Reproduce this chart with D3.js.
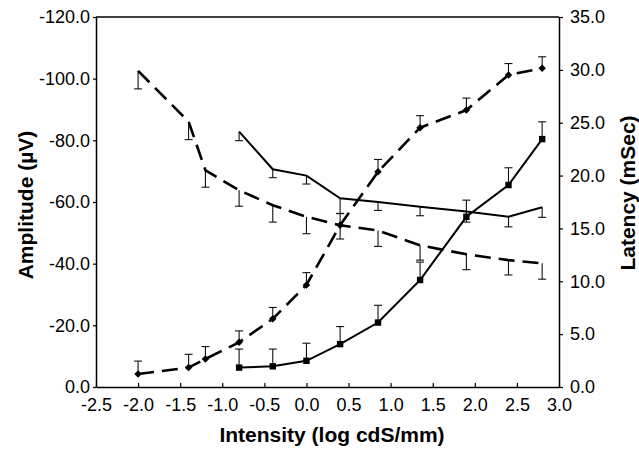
<!DOCTYPE html>
<html>
<head>
<meta charset="utf-8">
<script src="https://cdn.jsdelivr.net/npm/d3@7"></script>
<style>
  body { margin: 0; background: #fff; }
  text { font-family: "Liberation Sans", Arial, Helvetica, sans-serif; }
</style>
</head>
<body>
<div id="chart"></div>
<script>
// intensity steps (log cdS/mm)
const intensity = [-2.0, -1.4, -1.2, -0.8, -0.4, 0.0, 0.4, 0.85, 1.35, 1.9, 2.4, 2.8];
const intensityShort = [-0.8, -0.4, 0.0, 0.4, 0.85, 1.35, 1.9, 2.4, 2.8];

// amplitude (uV), left axis
const ampDashed = [-4.2, -6.3, -9.1, -14.5, -22.1, -33.1, -52.5, -69.8, -84.1, -89.8, -101.2, -103.4];
const ampDashedErr = [4.2, 4.3, 4.0, 3.7, 3.7, 4.0, 3.8, 4.0, 3.9, 3.9, 3.7, 3.7];
const ampSolid = [-6.3, -6.7, -8.5, -13.9, -20.9, -34.7, -55.2, -65.5, -80.4];
const ampSolidErr = [6.0, 5.6, 5.7, 5.7, 5.6, 5.8, 5.4, 5.6, 5.6];

// latency (mSec), right axis
const latDashed = [29.9, 25.1, 20.5, 18.6, 17.2, 16.1, 15.3, 14.8, 13.4, 12.55, 12.0, 11.7];
const latDashedErr = [1.7, 1.7, 1.6, 1.5, 1.6, 1.6, 1.3, 1.5, 1.4, 1.45, 1.4, 1.5];
const latSolid = [24.15, 20.6, 20.0, 17.85, 17.5, 17.05, 16.6, 16.1, 17.0];
const latSolidErr = [0.85, 0.8, 0.8, 1.45, 0.8, 0.85, 1.0, 0.95, 0.95];

const xTicks = [-2.5, -2.0, -1.5, -1.0, -0.5, 0.0, 0.5, 1.0, 1.5, 2.0, 2.5, 3.0];
const ampTicks = [0, -20, -40, -60, -80, -100, -120];
const latTicks = [0, 5, 10, 15, 20, 25, 30, 35];

const W = 639, H = 450;
const margin = { top: 17, right: 80, bottom: 63, left: 96 },
      width = W - margin.left - margin.right,
      height = H - margin.top - margin.bottom;

const svg = d3.select("#chart").append("svg")
    .attr("width", W)
    .attr("height", H)
  .append("g")
    .attr("transform", `translate(${margin.left},${margin.top})`);

const x = d3.scaleLinear().domain([-2.5, 3.0]).range([0, width]);
const yAmp = d3.scaleLinear().domain([0, -120]).range([height, 0]);
const yLat = d3.scaleLinear().domain([0, 35]).range([height, 0]);

// top frame line
svg.append("line")
   .attr("x1", 0).attr("x2", width)
   .attr("y1", 0).attr("y2", 0)
   .attr("stroke", "#000").attr("stroke-width", 1.3);

// axes
const xAxis = svg.append("g")
   .attr("transform", `translate(0,${height})`)
   .call(d3.axisBottom(x).tickValues(xTicks).tickFormat(d3.format(".1f")).tickSizeInner(-4).tickSizeOuter(0).tickPadding(11));

const leftAxis = svg.append("g")
   .call(d3.axisLeft(yAmp).tickValues(ampTicks).tickFormat(d3.format(".1f")).tickSizeInner(3).tickSizeOuter(0).tickPadding(3));

const rightAxis = svg.append("g")
   .attr("transform", `translate(${width},0)`)
   .call(d3.axisRight(yLat).tickValues(latTicks).tickFormat(d3.format(".1f")).tickSizeInner(4).tickSizeOuter(0).tickPadding(7));

[xAxis, leftAxis, rightAxis].forEach(g => {
  g.select(".domain").attr("stroke", "#000").attr("stroke-width", 1.5);
  g.selectAll(".tick line").attr("stroke", "#000").attr("stroke-width", 1.2);
  g.selectAll(".tick text")
   .style("font-family", "'Liberation Sans', Arial, sans-serif")
   .style("font-size", "18px")
   .attr("fill", "#000");
});
// hyphen style minus signs like the original
svg.selectAll(".tick text").text(function() { return this.textContent.replace("\u2212", "-"); });

// axis titles
svg.append("text")
   .attr("transform", `translate(${33 - margin.left},${205 - margin.top}) rotate(-90)`)
   .attr("text-anchor", "middle")
   .style("font-size", "21px").style("font-weight", "bold")
   .text("Amplitude (\u00b5V)");

svg.append("text")
   .attr("transform", `translate(${635 - margin.left},${193 - margin.top}) rotate(-90)`)
   .attr("text-anchor", "middle")
   .style("font-size", "21px").style("font-weight", "bold")
   .text("Latency (mSec)");

svg.append("text")
   .attr("x", 332 - margin.left)
   .attr("y", 442 - margin.top)
   .attr("text-anchor", "middle")
   .style("font-size", "21px").style("font-weight", "bold")
   .text("Intensity (log cdS/mm)");

// build series
function pts(xs, ys, errs) { return xs.map((v, i) => ({ x: v, y: ys[i], e: errs[i] })); }

const series = [
  { data: pts(intensity, latDashed, latDashedErr), y: yLat, dash: "16,8", w: 2.6, marker: null },
  { data: pts(intensityShort, latSolid, latSolidErr), y: yLat, dash: null, w: 2, marker: null },
  { data: pts(intensity, ampDashed, ampDashedErr), y: yAmp, dash: "16,8", w: 2.6, marker: "diamond" },
  { data: pts(intensityShort, ampSolid, ampSolidErr), y: yAmp, dash: null, w: 2, marker: "square" }
];

series.forEach(s => {
  const g = svg.append("g");
  // error bars: amplitude toward more negative (up), latency toward lower (down)
  const endY = d => s.y(d.y - d.e);
  const eb = g.selectAll(".err").data(s.data).enter().append("g");
  eb.append("line")
    .attr("x1", d => x(d.x)).attr("x2", d => x(d.x))
    .attr("y1", d => s.y(d.y))
    .attr("y2", endY)
    .attr("stroke", "#111").attr("stroke-width", 1.1);
  eb.append("line")
    .attr("x1", d => x(d.x) - 4).attr("x2", d => x(d.x) + 4)
    .attr("y1", endY).attr("y2", endY)
    .attr("stroke", "#111").attr("stroke-width", 1.1);

  const line = d3.line().x(d => x(d.x)).y(d => s.y(d.y));
  g.append("path")
   .datum(s.data)
   .attr("d", line)
   .attr("fill", "none")
   .attr("stroke", "#000")
   .attr("stroke-width", s.w)
   .attr("stroke-dasharray", s.dash);

  if (s.marker === "diamond") {
    g.selectAll(".mk").data(s.data).enter().append("path")
     .attr("d", d3.symbol().type(d3.symbolDiamond2).size(36))
     .attr("transform", d => `translate(${x(d.x)},${s.y(d.y)})`)
     .attr("fill", "#000");
  } else if (s.marker === "square") {
    g.selectAll(".mk").data(s.data).enter().append("rect")
     .attr("x", d => x(d.x) - 3.2).attr("y", d => s.y(d.y) - 3.2)
     .attr("width", 6.4).attr("height", 6.4)
     .attr("fill", "#000");
  }
});
</script>
</body>
</html>
